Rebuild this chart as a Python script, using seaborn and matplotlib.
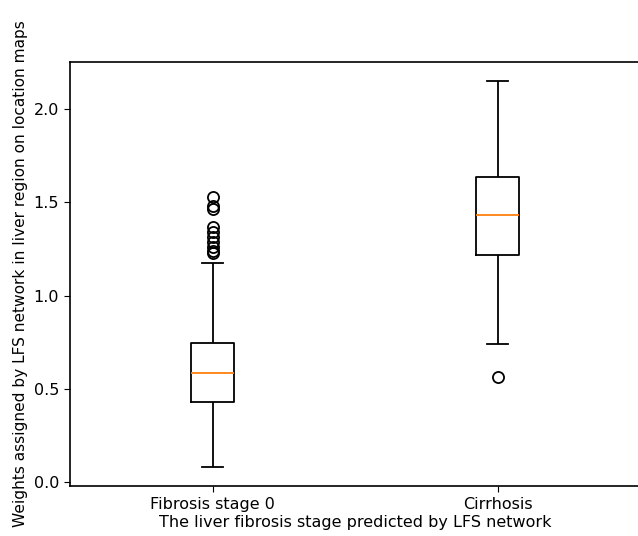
import matplotlib
matplotlib.use("Agg")
import matplotlib.pyplot as plt
import seaborn as sns
import pandas as pd

# ---- data ----
categories = ["Fibrosis stage 0", "Cirrhosis"]
whisker_low = [0.080, 0.740]
q1 = [0.429, 1.217]
median = [0.584, 1.432]
q3 = [0.745, 1.634]
whisker_high = [1.174, 2.152]
fliers = [
    [1.528, 1.480, 1.464, 1.367, 1.340, 1.314, 1.287, 1.260, 1.239, 1.228],
    [0.565],
]
xlabel = "The liver fibrosis stage predicted by LFS network"
ylabel = "Weights assigned by LFS network in liver region on location maps"

# ---- long-form table reproducing the summary statistics ----
rows = []
for i, cat in enumerate(categories):
    vals = ([whisker_low[i]] + [q1[i]] * 20 + [median[i]] * 20 + [q3[i]] * 20
            + [whisker_high[i]] + fliers[i])
    rows += [(cat, v) for v in vals]
df = pd.DataFrame(rows, columns=["stage", "weight"])

fs = 11.5
plt.rcParams["font.family"] = ["DejaVu Sans"]
plt.rcParams["font.size"] = fs
plt.rcParams["xtick.major.size"] = 4.5
plt.rcParams["ytick.major.size"] = 4.5

fig = plt.figure(figsize=(6.38, 5.36), dpi=100)
ax = fig.add_axes([70.2 / 638, (536 - 486) / 536, 570 / 638, (486 - 62) / 536])

lw = 1.3
sns.boxplot(
    data=df, x="stage", y="weight", order=categories, ax=ax,
    width=0.15, fill=False, color="black", linewidth=lw, whis=1.5,
    boxprops=dict(color="black", linewidth=lw),
    whiskerprops=dict(color="black", linewidth=lw),
    capprops=dict(color="black", linewidth=lw),
    medianprops=dict(color="#ff7f0e", linewidth=lw),
    flierprops=dict(marker="o", markersize=8, markerfacecolor="none",
                    markeredgecolor="black", markeredgewidth=lw),
)

ax.set_xlim(-0.5, 1.5)
ax.set_ylim(-0.021, 2.252)
ax.set_yticks([0.0, 0.5, 1.0, 1.5, 2.0])
ax.set_yticklabels(["0.0", "0.5", "1.0", "1.5", "2.0"])
ax.set_xlabel(xlabel, fontsize=fs, labelpad=2)
ax.set_ylabel(ylabel, fontsize=11.1, labelpad=4)
ax.tick_params(labelsize=fs)
for s in ax.spines.values():
    s.set_linewidth(1.2)

fig.savefig("out.png", dpi=100, facecolor="white")
